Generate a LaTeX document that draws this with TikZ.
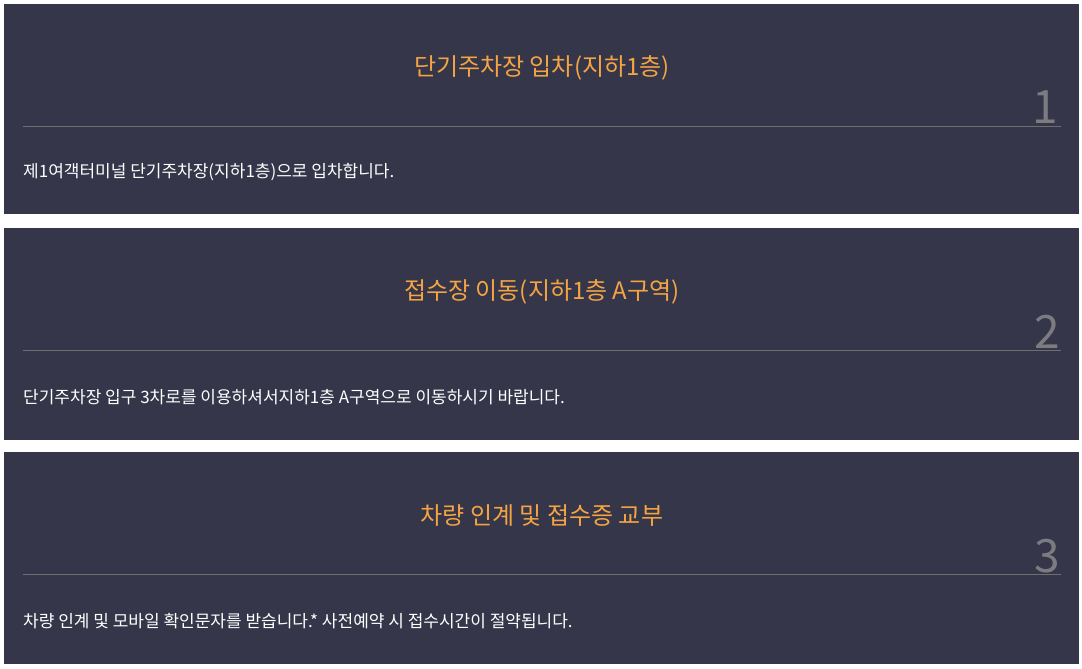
\documentclass[tikz,border=0pt]{standalone}
\usepackage{fontspec}
\newfontfamily\kofont{Noto Sans CJK KR}
\definecolor{panelbg}{HTML}{353649}
\definecolor{titleorange}{HTML}{F5A443}
\definecolor{rulegrey}{HTML}{6E6E6E}
\definecolor{numgrey}{HTML}{7C7C80}
\begin{document}
\begin{tikzpicture}[x=1pt, y=-1pt]
      \tikzset{panel/.style={fill=panelbg, draw=none},
               steptitle/.style={text=titleorange, font=\kofont\fontsize{24}{26}\selectfont, inner sep=0pt},
               stepnum/.style={text=numgrey, font=\kofont\fontsize{46}{48}\selectfont, inner sep=0pt, anchor=base east},
               steptext/.style={text=white, font=\kofont\fontsize{17}{19}\selectfont, inner sep=0pt, anchor=west},
               steprule/.style={draw=rulegrey, line width=1pt}}
      \useasboundingbox[fill=white] (0,0) rectangle (1082,669);
%% Panels
      \fill[panel] (4,4) rectangle (1079,214);
      \fill[panel] (4,228) rectangle (1079,440);
      \fill[panel] (4,452) rectangle (1079,664);
%% Titles
      \node[steptitle] (t1) at (542,68) {단기주차장 입차(지하1층)};
      \node[steptitle] (t2) at (542,292) {접수장 이동(지하1층 A구역)};
      \node[steptitle] (t3) at (542,516) {차량 인계 및 접수증 교부};
%% Numbers
      \node[stepnum] (n1) at (1058,124) {1};
      \node[stepnum] (n2) at (1060,348) {2};
      \node[stepnum] (n3) at (1060,572) {3};
%% Rules
      \coordinate (r1a) at (23,126.5);  \coordinate (r1b) at (1061,126.5);
      \coordinate (r2a) at (23,350.5);  \coordinate (r2b) at (1061,350.5);
      \coordinate (r3a) at (23,574.5);  \coordinate (r3b) at (1061,574.5);
      \draw[steprule] (r1a) -- (r1b);
      \draw[steprule] (r2a) -- (r2b);
      \draw[steprule] (r3a) -- (r3b);
%% Texts
      \node[steptext] (d1) at (23,172) {제1여객터미널 단기주차장(지하1층)으로 입차합니다.};
      \node[steptext] (d2) at (23,397) {단기주차장 입구 3차로를 이용하셔서지하1층 A구역으로 이동하시기 바랍니다.};
      \node[steptext] (d3) at (23,621) {차량 인계 및 모바일 확인문자를 받습니다.* 사전예약 시 접수시간이 절약됩니다.};
\end{tikzpicture}
\end{document}
